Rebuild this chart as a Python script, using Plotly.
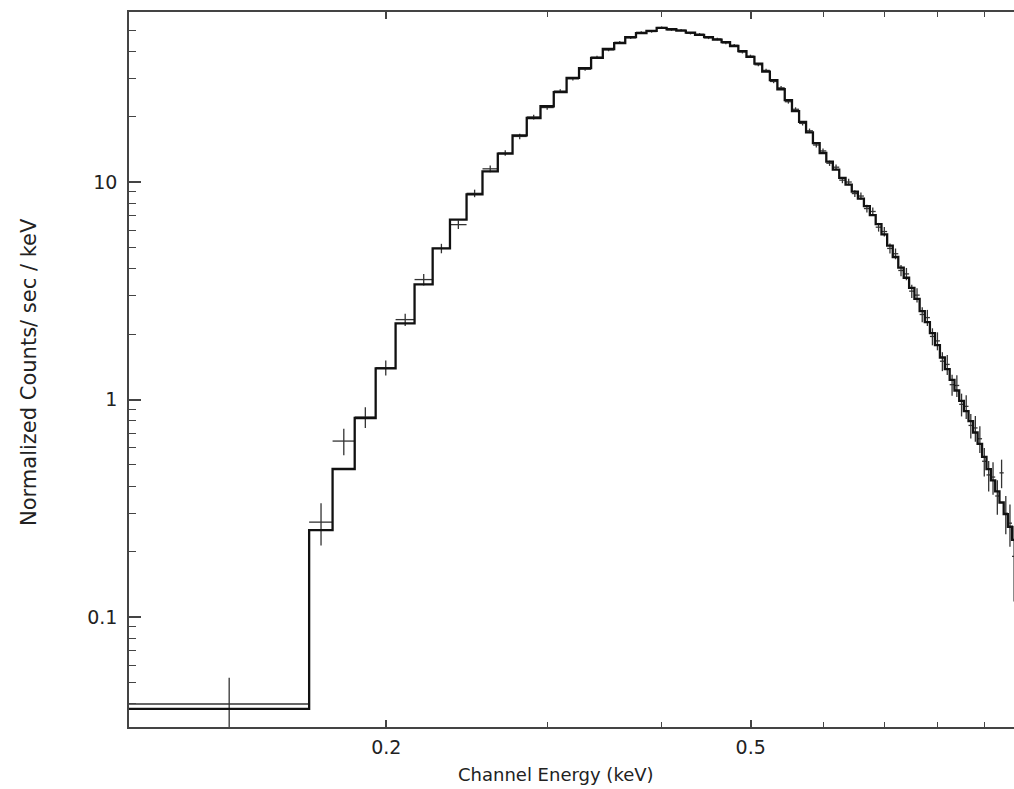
import math
import plotly.graph_objects as go

# Bin centres (keV): first wide grouped bin, then 0.01 keV channels
energy = [0.1347, 0.1697, 0.1797, 0.1897, 0.1997, 0.2097, 0.2197, 0.2297, 0.2397, 0.2497,
          0.2597, 0.2697, 0.2797, 0.2897, 0.2997, 0.3097, 0.3197, 0.3297, 0.3397, 0.3497,
          0.3597, 0.3697, 0.3797, 0.3897, 0.3997, 0.4097, 0.4197, 0.4297, 0.4397, 0.4497,
          0.4597, 0.4697, 0.4797, 0.4897, 0.4997, 0.5097, 0.5197, 0.5297, 0.5397, 0.5497,
          0.5597, 0.5697, 0.5797, 0.5897, 0.5997, 0.6097, 0.6197, 0.6297, 0.6397, 0.6497,
          0.6597, 0.6697, 0.6797, 0.6897, 0.6997, 0.7097, 0.7197, 0.7297, 0.7397, 0.7497,
          0.7597, 0.7697, 0.7797, 0.7897, 0.7997, 0.8097, 0.8197, 0.8297, 0.8397, 0.8497,
          0.8597, 0.8697, 0.8797, 0.8897, 0.8997, 0.9097, 0.9197, 0.9297, 0.9397, 0.9497,
          0.9597, 0.9697]
half_width = [0.03] + [0.005] * 81

model = [0.0378,
         0.251, 0.479, 0.822, 1.39, 2.24, 3.38, 4.95, 6.72, 8.77, 11.2,
         13.5, 16.4, 19.7, 22.3, 25.9, 30.1, 33.4, 37.2, 40.9, 43.5,
         46.4, 48.4, 49.5, 51.1, 50.4, 49.7, 48.6, 47.5, 46.4, 45.2,
         44.0, 42.2, 40.0, 37.6, 35.0, 32.2, 29.4, 26.7, 23.8, 21.2,
         18.9, 16.9, 15.1, 13.6, 12.4, 11.4, 10.45, 9.72, 9.03, 8.38,
         7.74, 7.05, 6.40, 5.75, 5.10, 4.52, 4.04, 3.63, 3.26, 2.90,
         2.55, 2.27, 2.02, 1.78, 1.56, 1.38, 1.23, 1.10, 0.985, 0.885,
         0.795, 0.705, 0.625, 0.545, 0.478, 0.425, 0.378, 0.336, 0.297, 0.260,
         0.226]

data = [0.0398,
        0.273, 0.644, 0.83, 1.40, 2.33, 3.56, 4.95, 6.37, 8.87, 11.5,
        13.6, 16.2, 19.9, 22.0, 26.2, 29.8, 33.0, 37.5, 40.5, 43.9,
        46.0, 48.8, 49.2, 51.3, 50.1, 49.9, 48.3, 47.8, 46.0, 45.5,
        43.6, 42.5, 39.6, 37.9, 34.6, 32.6, 29.0, 27.1, 23.4, 21.6,
        18.6, 17.2, 14.8, 13.9, 12.2, 11.7, 10.2, 10.0, 8.85, 8.62,
        7.55, 7.32, 6.20, 5.92, 4.95, 4.68, 3.92, 3.78, 3.15, 3.02,
        2.46, 2.38, 1.95, 1.86, 1.50, 1.45, 1.17, 1.16, 0.95, 0.93,
        0.76, 0.74, 0.66, 0.52, 0.45, 0.44, 0.36, 0.46, 0.30, 0.27,
        0.19]

rel_err = [0.32,
           0.22, 0.14, 0.11, 0.08, 0.065, 0.06, 0.05, 0.045, 0.04, 0.035,
           0.03, 0.028, 0.025, 0.022, 0.02, 0.018, 0.016, 0.015, 0.014, 0.013,
           0.012, 0.012, 0.012, 0.012, 0.012, 0.012, 0.012, 0.013, 0.013, 0.013,
           0.014, 0.014, 0.015, 0.016, 0.016, 0.017, 0.018, 0.019, 0.02, 0.021,
           0.022, 0.024, 0.025, 0.027, 0.028, 0.03, 0.032, 0.034, 0.036, 0.038,
           0.04, 0.043, 0.046, 0.05, 0.053, 0.057, 0.06, 0.065, 0.07, 0.075,
           0.08, 0.085, 0.09, 0.095, 0.10, 0.105, 0.11, 0.115, 0.12, 0.125,
           0.13, 0.135, 0.14, 0.15, 0.16, 0.17, 0.18, 0.15, 0.2, 0.22,
           0.38]

x_tickvals = [0.2, 0.5]
x_ticktext = ["0.2", "0.5"]
x_minor = [0.3, 0.4, 0.6, 0.7, 0.8, 0.9]
y_tickvals = [0.1, 1, 10]
y_ticktext = ["0.1", "1", "10"]
y_minor = [0.04, 0.05, 0.06, 0.07, 0.08, 0.09, 0.2, 0.3, 0.4, 0.5, 0.6, 0.7, 0.8, 0.9,
           2, 3, 4, 5, 6, 7, 8, 9, 20, 30, 40, 50, 60]

# model step histogram built from bin edges
step_x = [e - h for e, h in zip(energy, half_width)] + [energy[-1] + half_width[-1]]
step_y = model + [model[-1]]
err_y = [d * r for d, r in zip(data, rel_err)]

fig = go.Figure()
fig.add_trace(go.Scatter(
    x=energy, y=data, mode="markers",
    marker=dict(size=1, color="rgba(0,0,0,0)"),
    error_x=dict(type="data", array=half_width, symmetric=True, width=0,
                 thickness=1.3, color="#333333"),
    error_y=dict(type="data", array=err_y, symmetric=True, width=0,
                 thickness=1.3, color="#333333"),
    showlegend=False, hoverinfo="skip"))
fig.add_trace(go.Scatter(
    x=step_x, y=step_y, mode="lines", line=dict(shape="hv", color="#111111", width=2.3),
    showlegend=False, hoverinfo="skip"))

FONT = "DejaVu Sans"
# plot area spans x 129..1014, y 12..727 in the window
fig.update_layout(
    width=1014, height=789,
    margin=dict(l=129, r=0, t=12, b=62),
    paper_bgcolor="white", plot_bgcolor="white",
    font=dict(family=FONT, size=19, color="#222222"),
    xaxis=dict(type="log", range=[math.log10(0.1047), math.log10(0.9695)],
               showgrid=False, zeroline=False,
               showline=True, linecolor="#444444", linewidth=1.5, mirror="ticks",
               ticks="inside", ticklen=7, tickwidth=1.5, tickcolor="#444444",
               tickvals=x_tickvals, ticktext=x_ticktext, ticklabelstandoff=2,
               tickfont=dict(family=FONT, size=19, color="#222222"),
               minor=dict(tickvals=x_minor, ticks="inside", ticklen=5, tickwidth=1.3,
                          tickcolor="#444444", showgrid=False)),
    yaxis=dict(type="log", range=[math.log10(0.0312), math.log10(60.5)],
               showgrid=False, zeroline=False,
               showline=True, linecolor="#444444", linewidth=1.5, mirror=False,
               ticks="inside", ticklen=12, tickwidth=1.5, tickcolor="#444444",
               tickvals=y_tickvals, ticktext=y_ticktext, ticklabelstandoff=6,
               tickfont=dict(family=FONT, size=19, color="#222222"),
               minor=dict(tickvals=y_minor, ticks="inside", ticklen=7, tickwidth=1.3,
                          tickcolor="#444444", showgrid=False)),
    annotations=[
        dict(text="Channel Energy (keV)", xref="paper", yref="paper",
             x=(556 - 129) / 885, y=(727 - 775) / 715, xanchor="center", yanchor="middle",
             showarrow=False, font=dict(family=FONT, size=18, color="#222222")),
        dict(text="Normalized Counts/ sec / keV", xref="paper", yref="paper",
             x=(29 - 129) / 885, y=(727 - 372) / 715, xanchor="center", yanchor="middle",
             textangle=-90, showarrow=False, font=dict(family=FONT, size=21, color="#222222")),
    ],
)

fig.write_html("out.html", config={"displayModeBar": False},
               post_script="document.body.style.margin='0';document.body.style.overflow='hidden';")
